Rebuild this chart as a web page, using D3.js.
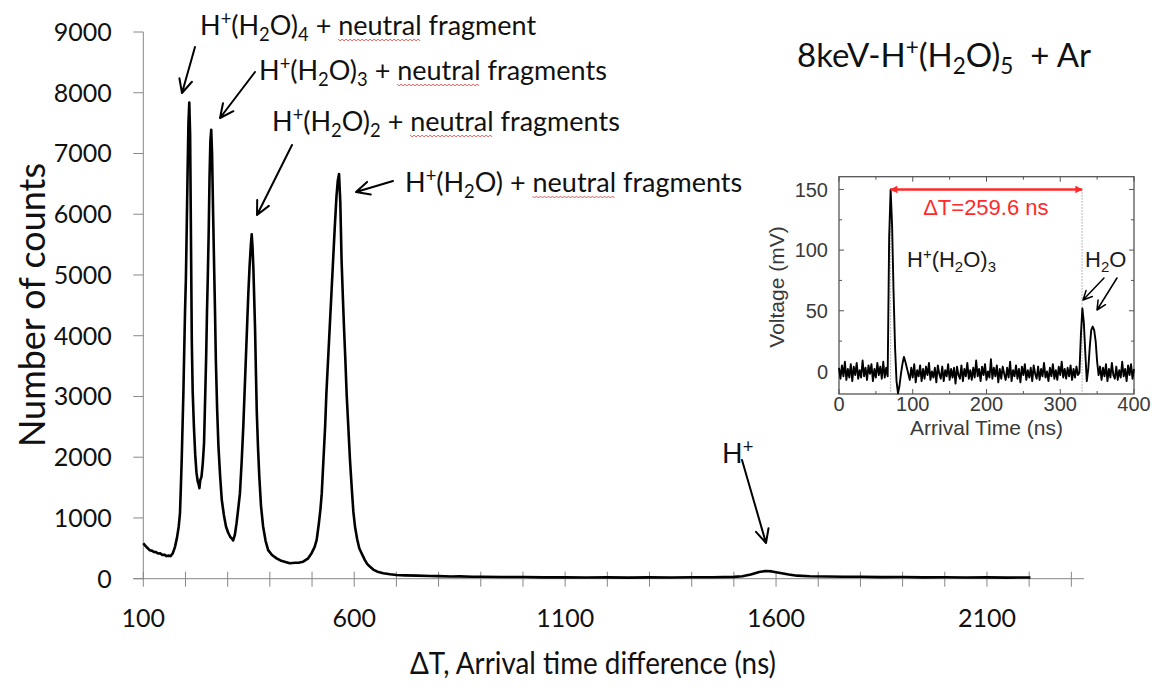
<html>
<head>
<meta charset="UTF-8">
<script src="https://d3js.org/d3.v7.min.js"></script>
<style>
  body { margin: 0; background: #fff; }
  text { white-space: pre; }
</style>
</head>
<body>
<script>
// ---- main spectrum (counts vs arrival time difference)
var mainTime = [100, 105, 110, 115, 120, 125, 130, 135, 140, 145, 150, 155, 160, 165, 170, 175, 180, 184, 187, 189,
  191, 193, 195, 197, 199, 201, 203, 205, 207, 209, 211, 213, 215, 217, 220, 223, 226, 229, 231, 233,
  235, 238, 241, 244, 246, 249, 251, 253, 255, 257, 259, 261, 263, 265, 268, 270, 272, 275, 278, 282,
  286, 291, 296, 301, 306, 310, 313, 317, 321, 325, 329, 333, 337, 340, 343, 346, 349, 352, 355, 357,
  359, 361, 363, 365, 367, 369, 372, 375, 379, 384, 390, 396, 405, 416, 425, 435, 447, 460, 470, 479,
  490, 499, 506, 511, 516, 520, 523, 527, 531, 534, 538, 542, 546, 550, 554, 558, 561, 564, 567, 570,
  573, 576, 579, 582, 586, 590, 595, 598, 602, 607, 612, 618, 625, 631, 637, 645, 655, 669, 685, 700,
  720, 750, 780, 800, 830, 850, 880, 900, 950, 1000, 1050, 1100, 1150, 1200, 1250, 1300, 1350, 1400, 1450, 1500,
  1520, 1540, 1560, 1575, 1590, 1610, 1630, 1650, 1680, 1720, 1760, 1800, 1850, 1900, 1950, 2000, 2050, 2100, 2150, 2203];
var mainCounts = [583, 540, 505, 470, 462, 440, 438, 415, 418, 392, 395, 372, 380, 372, 420, 520, 680, 860, 1080, 1500,
  1950, 2500, 3050, 3750, 4420, 4950, 5800, 6700, 7500, 7840, 7300, 5600, 3900, 3100, 2500, 2050, 1750, 1600, 1560, 1490,
  1620, 1680, 1900, 2230, 2800, 3650, 4400, 5000, 5700, 6600, 7200, 7390, 7000, 6200, 5100, 4400, 3600, 2800, 2200, 1700,
  1300, 1050, 860, 760, 690, 660, 630, 720, 910, 1150, 1400, 1900, 2500, 3050, 3600, 4150, 4700, 5150, 5500, 5670,
  5450, 5100, 4600, 4100, 3400, 2750, 2150, 1680, 1200, 860, 620, 470, 390, 335, 300, 280, 255, 262, 265, 280,
  330, 420, 520, 640, 900, 1150, 1400, 1950, 2500, 3050, 3600, 4150, 4700, 5250, 5800, 6300, 6550, 6660, 6200, 5250,
  4650, 4100, 3600, 3050, 2500, 1950, 1400, 1100, 850, 650, 500, 410, 310, 240, 200, 150, 115, 89, 72, 61,
  55, 50, 44, 42, 36, 38, 31, 33, 27, 28, 22, 25, 19, 22, 18, 21, 19, 24, 23, 30,
  40, 70, 110, 127, 120, 95, 70, 50, 40, 36, 31, 32, 26, 27, 22, 24, 19, 21, 18, 20];
var xTickValues = d3.range(100, 2301, 100);
var xTickLabels = [100, 600, 1100, 1600, 2100];
var yTickValues = [0, 1000, 2000, 3000, 4000, 5000, 6000, 7000, 8000, 9000];

// ---- inset trace (voltage vs arrival time), 2 ns per sample from 0 to 400 ns
var insetTime = d3.range(0, 401, 2);
var insetVolt = [
  3, -6, 5, -4, 8, -7, 2, -5, 6, -8,
  4, -3, 7, -6, 1, -5, 9, -4, 3, -7,
  5, -2, 6, -8, 2, -5, 7, -3, 4, -6,
  8, -5, 3, -4, 110, 150, 120, 65, 20, -8,
  -18, -12, -2, 6, 12, 8, 3, -2, -7, 3,
  -5, 6, -9, 1, -4, 5, -8, 2, -6, 4,
  -3, 7, -7, 0, -5, 3, -9, 5, -2, -6,
  4, -8, 1, -4, 6, -7, 2, -5, 3, -10,
  4, -3, -6, 5, -8, 2, -4, 7, -6, 1,
  -7, 3, -5, 9, -4, 2, -8, 4, -3, 6,
  -7, 0, -5, 10, -6, 3, -4, 5, -9, 2,
  -6, 4, -2, -7, 3, -5, 8, -8, 1, -4,
  5, -6, 2, -9, 4, -3, 6, -7, 1, -5,
  3, -8, 5, -2, -6, 4, -7, 2, -4, 7,
  -5, 0, -8, 3, -4, 6, -6, 1, -7, 4,
  -3, 8, -5, 2, -6, 3, -4, 5, -7, 2,
  -5, 4, -3, -1, 30, 52, 40, 15, -8, 2,
  20, 34, 37, 34, 25, 8, -3, 4, -7, 3,
  -4, 6, -8, 2, -5, 7, -3, -6, 4, -7,
  1, -5, 8, -4, 2, -8, 5, -3, 6, -6,
  2];
var insetXTicks = [0, 100, 200, 300, 400];
var insetYTicks = [0, 50, 100, 150];
var deltaT = [70, 329.6];

var W = 1157, H = 690;
var svg = d3.select("body").append("svg").attr("width", W).attr("height", H);

var FONT = "Lato, 'Open Sans', sans-serif";
var AFONT = "'Liberation Sans', Arial, sans-serif";
var AX = "#878787";

// ---------------- main chart
var x = d3.scaleLinear().domain([100, 2330]).range([143.3, 1084]);
var y = d3.scaleLinear().domain([0, 9000]).range([578.7, 32]);

// x axis, ticks cross the line
var xa = svg.append("g").attr("transform", "translate(0," + y(0) + ")");
xa.append("line").attr("x1", x(100) - 10).attr("x2", x(2330)).attr("stroke", AX);
xa.selectAll(".xt").data(xTickValues).enter().append("line")
  .attr("x1", d => x(d)).attr("x2", d => x(d)).attr("y1", -7).attr("y2", 8).attr("stroke", AX);
xa.selectAll(".xl").data(xTickLabels).enter().append("text")
  .attr("x", d => x(d)).attr("y", 48).attr("text-anchor", "middle")
  .attr("font-family", FONT).attr("font-size", 25).attr("fill", "#111").text(d => d);

// y axis
var ya = svg.append("g").attr("transform", "translate(" + x(100) + ",0)");
ya.append("line").attr("y1", y(0)).attr("y2", y(9000)).attr("stroke", AX);
ya.selectAll(".yt").data(yTickValues).enter().append("line")
  .attr("x1", -10).attr("x2", 0).attr("y1", d => y(d)).attr("y2", d => y(d)).attr("stroke", AX);
ya.selectAll(".yl").data(yTickValues).enter().append("text")
  .attr("x", -31.6).attr("y", d => y(d)).attr("dy", "0.36em").attr("text-anchor", "end")
  .attr("font-family", FONT).attr("font-size", 25).attr("fill", "#111").text(d => d);

// axis titles (narrowed a little, the original face is condensed)
svg.append("text").attr("transform", "translate(45,305) rotate(-90)").attr("text-anchor", "middle")
  .attr("font-family", FONT).attr("font-size", 37).attr("fill", "#111")
  .attr("textLength", 284).attr("lengthAdjust", "spacingAndGlyphs").text("Number of counts");
svg.append("text").attr("x", 593).attr("y", 674).attr("text-anchor", "middle")
  .attr("font-family", FONT).attr("font-size", 31).attr("fill", "#111")
  .attr("textLength", 366).attr("lengthAdjust", "spacingAndGlyphs").text("\u0394T, Arrival time difference (ns)");

// spectrum line
var mainData = mainTime.map((t, i) => [t, mainCounts[i]]);
svg.append("path").datum(mainData)
  .attr("fill", "none").attr("stroke", "#000").attr("stroke-width", 2.6).attr("stroke-linejoin", "round")
  .attr("d", d3.line().x(d => x(d[0])).y(d => y(d[1])));

// rich text helper for sub / superscripts
function rich(sel, px, py, parts, size, family, fill) {
  var t = sel.append("text").attr("x", px).attr("y", py).attr("font-size", size)
    .attr("font-family", family).attr("fill", fill);
  var cur = 0;
  parts.forEach(function(p) {
    var off = p[1] === "sup" ? -0.36 * size : p[1] === "sub" ? 0.22 * size : 0;
    var ts = t.append("tspan").attr("dy", off - cur).text(p[0]);
    if (p[1]) ts.attr("font-size", size * 0.68);
    cur = off;
  });
  return t;
}

// red spell-check squiggle under a word
function squiggle(t, word) {
  var node = t.node(), full = node.textContent, i = full.indexOf(word);
  var s = node.getStartPositionOfChar(i), e = node.getEndPositionOfChar(i + word.length - 1);
  var pts = [], k = 0;
  for (var px = s.x; px <= e.x; px += 2, k++) pts.push([px, s.y + 4 + (k % 2) * 2]);
  svg.append("path").attr("d", d3.line()(pts)).attr("fill", "none")
    .attr("stroke", "#e8473f").attr("stroke-width", 0.9);
}

function arrow(x1, y1, x2, y2, len, w) {
  var a = Math.atan2(y2 - y1, x2 - x1), sp = 0.45;
  var p = "M" + x1 + "," + y1 + "L" + x2 + "," + y2 +
    "M" + (x2 - len * Math.cos(a - sp)) + "," + (y2 - len * Math.sin(a - sp)) + "L" + x2 + "," + y2 +
    "L" + (x2 - len * Math.cos(a + sp)) + "," + (y2 - len * Math.sin(a + sp));
  svg.append("path").attr("d", p).attr("fill", "none").attr("stroke", "#000")
    .attr("stroke-width", w).attr("stroke-linecap", "round").attr("stroke-linejoin", "round");
}

var TXT = "#111";
var lab;
lab = rich(svg, 200, 35, [["H"], ["+", "sup"], ["(H"], ["2", "sub"], ["O)"], ["4", "sub"], [" + neutral fragment"]], 27, FONT, TXT);
squiggle(lab, "neutral");
lab = rich(svg, 259, 80, [["H"], ["+", "sup"], ["(H"], ["2", "sub"], ["O)"], ["3", "sub"], [" + neutral fragments"]], 27, FONT, TXT);
squiggle(lab, "neutral");
lab = rich(svg, 272, 131, [["H"], ["+", "sup"], ["(H"], ["2", "sub"], ["O)"], ["2", "sub"], [" + neutral fragments"]], 27, FONT, TXT);
squiggle(lab, "neutral");
lab = rich(svg, 405, 192, [["H"], ["+", "sup"], ["(H"], ["2", "sub"], ["O) + neutral fragments"]], 27, FONT, TXT);
squiggle(lab, "neutral");
rich(svg, 797, 67, [["8keV-H"], ["+", "sup"], ["(H"], ["2", "sub"], ["O)"], ["5", "sub"], ["  + Ar"]], 33, FONT, TXT);
rich(svg, 722, 463, [["H"], ["+", "sup"]], 27, FONT, TXT);

arrow(195, 47, 182, 93, 15, 2);
arrow(255, 72, 220, 118, 15, 2);
arrow(292, 145, 257, 215, 15, 2);
arrow(393, 181, 356, 192, 15, 2);
arrow(742, 460, 766, 543, 15, 2);

// ---------------- inset
var ix = d3.scaleLinear().domain([0, 400]).range([839, 1134]);
var iy = d3.scaleLinear().domain([-18.6, 160.5]).range([394, 176.7]);
var inset = svg.append("g");
var FR = "#555";

inset.append("rect").attr("x", ix(0)).attr("y", iy(160.5)).attr("width", ix(400) - ix(0))
  .attr("height", iy(-18.6) - iy(160.5)).attr("fill", "#fff").attr("stroke", FR).attr("stroke-width", 1.3);

var ixMinor = d3.range(0, 401, 50), iyMinor = d3.range(0, 151, 25);
ixMinor.forEach(function(d) {
  var L = d % 100 === 0 ? 5 : 3;
  inset.append("line").attr("x1", ix(d)).attr("x2", ix(d)).attr("y1", iy(-18.6)).attr("y2", iy(-18.6) - L).attr("stroke", FR);
  inset.append("line").attr("x1", ix(d)).attr("x2", ix(d)).attr("y1", iy(160.5)).attr("y2", iy(160.5) + L).attr("stroke", FR);
});
iyMinor.forEach(function(d) {
  var L = d % 50 === 0 ? 5 : 3;
  inset.append("line").attr("y1", iy(d)).attr("y2", iy(d)).attr("x1", ix(0)).attr("x2", ix(0) + L).attr("stroke", FR);
  inset.append("line").attr("y1", iy(d)).attr("y2", iy(d)).attr("x1", ix(400)).attr("x2", ix(400) - L).attr("stroke", FR);
});

inset.selectAll(".ixl").data(insetXTicks).enter().append("text")
  .attr("x", d => ix(d)).attr("y", 411).attr("text-anchor", "middle")
  .attr("font-family", AFONT).attr("font-size", 20).attr("fill", "#3a3a3a").text(d => d);
inset.selectAll(".iyl").data(insetYTicks).enter().append("text")
  .attr("x", 828).attr("y", d => iy(d)).attr("dy", "0.36em").attr("text-anchor", "end")
  .attr("font-family", AFONT).attr("font-size", 20).attr("fill", "#3a3a3a").text(d => d);
inset.append("text").attr("x", ix(200)).attr("y", 435).attr("text-anchor", "middle")
  .attr("font-family", AFONT).attr("font-size", 21).attr("fill", "#3a3a3a").text("Arrival Time (ns)");
inset.append("text").attr("transform", "translate(784,287) rotate(-90)").attr("text-anchor", "middle")
  .attr("font-family", AFONT).attr("font-size", 21).attr("fill", "#3a3a3a").text("Voltage (mV)");

// dotted markers for the two arrivals
deltaT.forEach(function(d) {
  inset.append("line").attr("x1", ix(d)).attr("x2", ix(d)).attr("y1", iy(150)).attr("y2", iy(-18.6))
    .attr("stroke", "#777").attr("stroke-width", 1).attr("stroke-dasharray", "1,2");
});

var insetData = insetTime.map((t, i) => [t, insetVolt[i]]);
inset.append("path").datum(insetData)
  .attr("fill", "none").attr("stroke", "#000").attr("stroke-width", 1.9).attr("stroke-linejoin", "round")
  .attr("d", d3.line().x(d => ix(d[0])).y(d => iy(d[1])));

// red delta-T arrow
var RED = "#ff2a2a";
svg.append("defs").append("marker").attr("id", "rh").attr("viewBox", "0 0 10 10").attr("refX", 9).attr("refY", 5)
  .attr("markerWidth", 4).attr("markerHeight", 3).attr("orient", "auto-start-reverse")
  .append("path").attr("d", "M0,0L10,5L0,10z").attr("fill", RED);
inset.append("line").attr("x1", ix(deltaT[0])).attr("x2", ix(deltaT[1])).attr("y1", iy(150)).attr("y2", iy(150))
  .attr("stroke", RED).attr("stroke-width", 2.5)
  .attr("marker-start", "url(#rh)").attr("marker-end", "url(#rh)");
inset.append("text").attr("x", ix((deltaT[0] + deltaT[1]) / 2) - 0.5).attr("y", 215).attr("text-anchor", "middle")
  .attr("font-family", AFONT).attr("font-size", 22).attr("fill", RED).text("\u0394T=259.6 ns");

rich(inset, 907, 267, [["H"], ["+", "sup"], ["(H"], ["2", "sub"], ["O)"], ["3", "sub"]], 22, AFONT, "#1a1a1a");
rich(inset, 1085, 267, [["H"], ["2", "sub"], ["O"]], 22, AFONT, "#1a1a1a");
arrow(1104, 278, 1083, 300, 10, 1.5);
arrow(1117, 278, 1097, 310, 10, 1.5);
</script>
</body>
</html>
